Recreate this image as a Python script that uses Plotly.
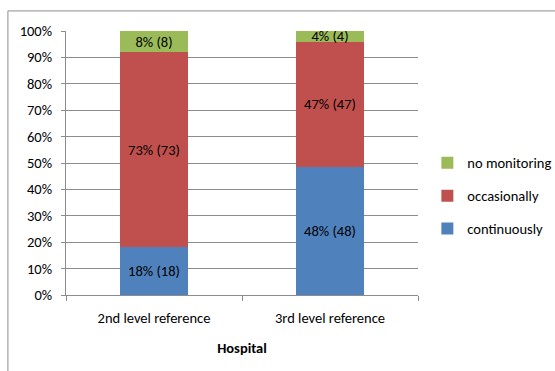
import plotly.graph_objects as go

# Hospital categories and monitoring counts per category
hospitals = ["2nd level reference", "3rd level reference"]
continuously = [18, 48]
occasionally = [73, 47]
no_monitoring = [8, 4]

y_ticks = [0, 10, 20, 30, 40, 50, 60, 70, 80, 90, 100]
y_tick_labels = [f"{t}%" for t in y_ticks]

FONT = "Carlito, 'Liberation Sans', Arial, sans-serif"
FS = 14.5
GRID = "#8c8c8c"

# stacked bottom to top; legend lists them top to bottom
series = [
    ("continuously", continuously, "#4F81BD", 3),
    ("occasionally", occasionally, "#C0504D", 2),
    ("no monitoring", no_monitoring, "#9BBB59", 1),
]

fig = go.Figure()
for name, vals, color, rank in series:
    fig.add_trace(go.Bar(
        name=name,
        x=hospitals,
        y=vals,
        marker=dict(color=color, line=dict(width=0)),
        text=[f"{v}% ({v})" for v in vals],
        textposition="inside",
        insidetextanchor="middle",
        textangle=0,
        constraintext="none",
        textfont=dict(family=FONT, size=FS, color="#000000"),
        legendgroup=name,
        legendrank=rank,
        hoverinfo="skip",
    ))

fig.update_layout(
    width=555,
    height=371,
    barmode="stack",
    barnorm="percent",
    bargap=0.61,
    plot_bgcolor="white",
    paper_bgcolor="white",
    font=dict(family=FONT, size=FS, color="#000000"),
    margin=dict(l=66, r=137, t=31, b=76, autoexpand=False),
    legend=dict(
        xref="container", yref="container",
        x=0.77, y=0.472, xanchor="left", yanchor="middle",
        traceorder="grouped",
        tracegroupgap=11,
        font=dict(family=FONT, size=FS),
        itemwidth=30,
        borderwidth=0,
    ),
    showlegend=True,
)

fig.update_yaxes(
    range=[0, 100],
    tickvals=y_ticks,
    ticktext=y_tick_labels,
    showgrid=True,
    gridcolor=GRID,
    gridwidth=1,
    showline=True,
    linecolor=GRID,
    ticks="outside",
    ticklen=4,
    tickcolor=GRID,
    ticklabelstandoff=6,
    zeroline=False,
    tickfont=dict(family=FONT, size=FS),
)
fig.update_xaxes(
    title=dict(text="<b>Hospital</b>", font=dict(family=FONT, size=FS), standoff=16),
    showline=True,
    linecolor=GRID,
    ticks="outside",
    tickson="boundaries",
    ticklen=5,
    tickcolor=GRID,
    ticklabelstandoff=10,
    tickfont=dict(family=FONT, size=FS),
)

# Outer chart frame (top and left edges visible within the page)
fig.add_shape(
    type="rect", xref="paper", yref="paper",
    x0=-0.165, x1=1.6, y0=-0.5, y1=1.076,
    line=dict(color="#8c8c8c", width=1),
    fillcolor="rgba(0,0,0,0)",
    layer="below",
)

fig.write_html("out.html")
